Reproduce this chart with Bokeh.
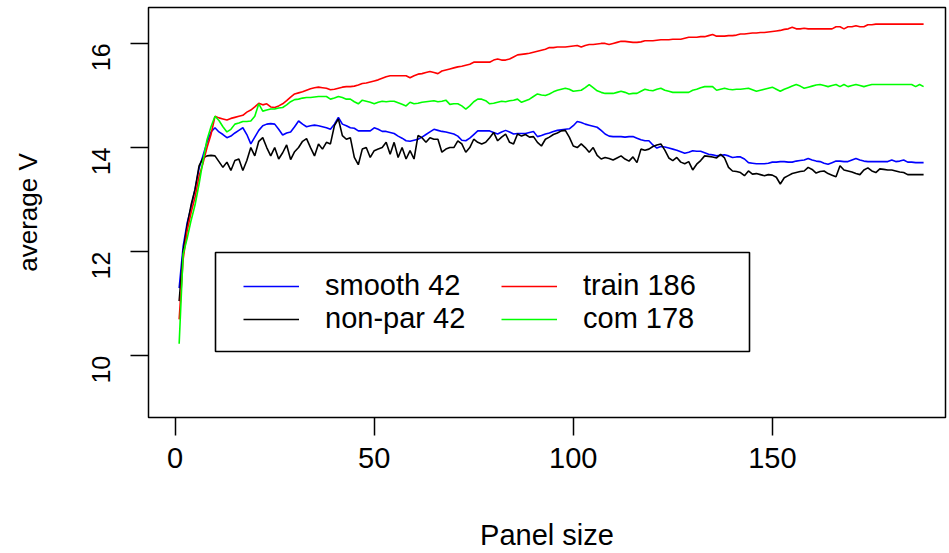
import math
from bokeh.plotting import figure
from bokeh.models import FixedTicker, Range1d, Legend, LegendItem, BoxAnnotation
from bokeh.embed import file_html
from bokeh.resources import INLINE

panel_size = list(range(1, 189))

smooth_42 = [
    11.3, 12.1, 12.55, 12.85, 13.2, 13.6, 13.85, 14.1, 14.3, 14.38,
    14.3, 14.25, 14.19, 14.22, 14.28, 14.33, 14.38, 14.25, 14.07, 14.2,
    14.33, 14.42, 14.45, 14.46, 14.45, 14.35, 14.24, 14.28, 14.3, 14.4,
    14.51, 14.45, 14.4, 14.42, 14.43, 14.42, 14.4, 14.38, 14.35, 14.45,
    14.58, 14.45, 14.42, 14.38, 14.37, 14.32, 14.32, 14.32, 14.32, 14.38,
    14.35, 14.31, 14.31, 14.29, 14.27, 14.22, 14.18, 14.13, 14.12, 14.14,
    14.16, 14.2, 14.25, 14.3, 14.35, 14.33, 14.31, 14.3, 14.28, 14.26,
    14.22, 14.14, 14.13, 14.18, 14.25, 14.32, 14.32, 14.32, 14.32, 14.29,
    14.26, 14.3, 14.33, 14.3, 14.26, 14.27, 14.27, 14.27, 14.29, 14.31,
    14.21, 14.23, 14.26, 14.28, 14.31, 14.33, 14.34, 14.35, 14.36, 14.42,
    14.5, 14.48, 14.45, 14.43, 14.41, 14.39, 14.33, 14.26, 14.22, 14.21,
    14.21, 14.21, 14.2, 14.21, 14.21, 14.18, 14.15, 14.13, 14.13, 14.05,
    13.99, 14.02, 14.01, 13.99, 13.97, 13.95, 13.92, 13.89, 13.91, 13.94,
    13.93, 13.93, 13.9, 13.87, 13.86, 13.84, 13.85, 13.86, 13.84, 13.81,
    13.82, 13.82, 13.78, 13.71, 13.7, 13.69, 13.69, 13.69, 13.7, 13.72,
    13.72, 13.73, 13.73, 13.72, 13.72, 13.74, 13.75, 13.76, 13.79, 13.76,
    13.74, 13.73, 13.7, 13.68, 13.71, 13.74, 13.74, 13.73, 13.73, 13.76,
    13.79, 13.76, 13.74, 13.73, 13.73, 13.73, 13.73, 13.73, 13.73, 13.76,
    13.73, 13.74, 13.76, 13.72, 13.72, 13.71, 13.71, 13.71,
]

nonpar_42 = [
    11.05, 12.0, 12.5, 12.9, 13.2, 13.65, 13.8, 13.84, 13.85, 13.84,
    13.73, 13.62, 13.72, 13.56, 13.75, 13.78, 13.56, 13.75, 14.0, 13.84,
    14.12, 14.19, 14.0, 13.84, 14.0, 13.78, 13.9, 14.05, 13.77, 13.92,
    14.0, 14.12, 14.17, 14.0, 13.84, 14.07, 13.97, 14.1, 14.07, 14.42,
    14.55, 14.23, 14.16, 14.19, 13.81, 13.67, 13.97, 14.0, 13.81, 13.94,
    13.97, 14.0, 14.1, 13.87, 14.1, 13.81, 14.0, 13.78, 13.94, 13.78,
    14.23, 14.19, 14.1, 14.19, 14.16, 14.16, 13.91, 13.97, 14.0, 14.0,
    14.13, 14.07, 13.91, 14.0, 14.16, 14.1, 14.07, 14.1, 14.19, 14.29,
    14.13, 14.2, 14.26, 14.1, 14.07, 14.26, 14.22, 14.25, 14.2, 14.21,
    14.1, 14.03, 14.16, 14.2, 14.25, 14.28, 14.32, 14.33, 14.2, 14.03,
    14.0, 14.07, 14.0, 13.91, 14.0, 13.85, 13.78, 13.81, 13.79, 13.76,
    13.8, 13.84, 13.78, 13.74, 13.82, 13.71, 13.97, 13.95, 13.97, 14.02,
    14.05, 14.07, 13.95, 13.8, 13.75, 13.81, 13.72, 13.69, 13.73, 13.57,
    13.68, 13.75, 13.84, 13.83, 13.82, 13.8, 13.87, 13.8, 13.62, 13.55,
    13.54, 13.52, 13.46, 13.55, 13.49, 13.5, 13.48, 13.46, 13.48, 13.47,
    13.43, 13.3, 13.42, 13.46, 13.5, 13.52, 13.54, 13.55, 13.62, 13.58,
    13.51, 13.54, 13.55, 13.5, 13.47, 13.44, 13.65, 13.57, 13.55, 13.53,
    13.5, 13.48, 13.57, 13.61, 13.55, 13.52, 13.59, 13.58, 13.57, 13.57,
    13.55, 13.53, 13.52, 13.48, 13.48, 13.48, 13.48, 13.48,
]

train_186 = [
    10.7, 11.85, 12.4, 12.75, 13.05, 13.45, 13.7, 14.0, 14.25, 14.6,
    14.57, 14.55, 14.53, 14.56, 14.58, 14.6, 14.62, 14.68, 14.72, 14.78,
    14.85, 14.82, 14.84, 14.78, 14.77, 14.8, 14.84, 14.9, 14.97, 15.03,
    15.05, 15.07, 15.1, 15.13, 15.15, 15.16, 15.15, 15.14, 15.11, 15.12,
    15.14, 15.16, 15.17, 15.17, 15.18, 15.2, 15.23, 15.24, 15.26, 15.28,
    15.3, 15.33, 15.36, 15.38, 15.38, 15.38, 15.38, 15.38, 15.34, 15.38,
    15.41, 15.42, 15.44, 15.46, 15.44, 15.42, 15.47, 15.49, 15.51, 15.53,
    15.55, 15.56, 15.58, 15.6, 15.64, 15.64, 15.64, 15.64, 15.64, 15.68,
    15.7, 15.68, 15.68, 15.7, 15.74, 15.78, 15.79, 15.8, 15.81, 15.83,
    15.85, 15.87, 15.89, 15.92, 15.92, 15.93, 15.93, 15.93, 15.94, 15.95,
    15.96, 15.93, 15.96, 15.98, 15.98, 15.99, 16.0, 16.0, 15.98, 16.0,
    16.02, 16.04, 16.04, 16.03, 16.02, 16.02, 16.03, 16.05, 16.05, 16.05,
    16.06, 16.07, 16.07, 16.07, 16.08, 16.08, 16.08, 16.1, 16.12, 16.12,
    16.12, 16.13, 16.13, 16.15, 16.17, 16.14, 16.14, 16.14, 16.15, 16.15,
    16.16, 16.18, 16.18, 16.19, 16.2, 16.2, 16.21, 16.21, 16.22, 16.23,
    16.24, 16.25, 16.27, 16.28, 16.31, 16.28, 16.28, 16.29, 16.28, 16.28,
    16.28, 16.28, 16.28, 16.28, 16.28, 16.32, 16.32, 16.28, 16.32, 16.32,
    16.34, 16.32, 16.32, 16.36, 16.36, 16.37, 16.37, 16.37, 16.37, 16.37,
    16.37, 16.37, 16.37, 16.37, 16.37, 16.37, 16.37, 16.37,
]

com_178 = [
    10.23, 11.95, 12.25, 12.6, 12.9, 13.3, 13.75, 14.15, 14.4, 14.6,
    14.52, 14.4, 14.3, 14.35, 14.45, 14.47, 14.5, 14.5, 14.51, 14.6,
    14.84, 14.7, 14.72, 14.74, 14.74, 14.76, 14.77, 14.82, 14.88, 14.92,
    14.93, 14.95, 14.96, 14.96, 14.97, 14.98, 14.98, 14.98, 14.93, 14.95,
    14.98, 14.96, 14.93, 14.93, 14.88, 14.84, 14.91, 14.89, 14.87, 14.84,
    14.87, 14.89, 14.88, 14.89, 14.89, 14.86, 14.83, 14.8, 14.87, 14.84,
    14.85, 14.87, 14.88, 14.89, 14.9, 14.88, 14.89, 14.91, 14.83, 14.84,
    14.84, 14.8, 14.74, 14.8, 14.88, 14.93, 14.93, 14.9, 14.84, 14.85,
    14.87, 14.89, 14.88, 14.9, 14.91, 14.93, 14.87, 14.9, 14.93, 14.98,
    15.03, 15.01, 15.0, 15.03, 15.07, 15.1, 15.12, 15.14, 15.12, 15.08,
    15.09, 15.1, 15.15, 15.21, 15.15, 15.09, 15.06, 15.04, 15.04, 15.04,
    15.06, 15.08, 15.06, 15.03, 15.04, 15.04, 15.08, 15.12, 15.1, 15.09,
    15.12, 15.14, 15.1, 15.08, 15.06, 15.06, 15.06, 15.06, 15.06, 15.1,
    15.12, 15.15, 15.17, 15.17, 15.17, 15.1, 15.12, 15.14, 15.12, 15.11,
    15.12, 15.12, 15.13, 15.14, 15.11, 15.08, 15.1, 15.12, 15.14, 15.16,
    15.12, 15.08, 15.12, 15.15, 15.18, 15.21, 15.18, 15.14, 15.16, 15.18,
    15.2, 15.21, 15.19, 15.17, 15.19, 15.21, 15.17, 15.21, 15.17, 15.19,
    15.21, 15.19, 15.17, 15.19, 15.21, 15.21, 15.21, 15.21, 15.21, 15.21,
    15.21, 15.21, 15.21, 15.21, 15.21, 15.17, 15.21, 15.17,
]

x_ticks = [0, 50, 100, 150]
y_ticks = [10, 12, 14, 16]

FONT = "Liberation Sans"

p = figure(
    width=949, height=553,
    output_backend="svg", toolbar_location=None,
    x_range=Range1d(-6.7, 193.5), y_range=Range1d(8.815, 16.69),
    min_border_left=148, min_border_right=4, min_border_top=7, min_border_bottom=136,
    background_fill_color="white", border_fill_color="white",
)
p.outline_line_color = "black"
p.outline_line_width = 1.5
p.xgrid.visible = False
p.ygrid.visible = False

for ax in (p.xaxis[0], p.yaxis[0]):
    ax.axis_line_color = None
    ax.major_tick_in = 0
    ax.major_tick_out = 18
    ax.major_tick_line_color = "black"
    ax.major_tick_line_width = 1.5
    ax.minor_tick_line_color = None
    ax.major_label_text_font = FONT
    ax.major_label_text_color = "black"
    ax.axis_label_text_font = FONT
    ax.axis_label_text_font_style = "normal"
    ax.axis_label_text_color = "black"

p.xaxis[0].ticker = FixedTicker(ticks=x_ticks)
p.yaxis[0].ticker = FixedTicker(ticks=y_ticks)
p.xaxis[0].axis_label = "Panel size"
p.yaxis[0].axis_label = "average V"
p.xaxis[0].major_label_text_font_size = "29px"
p.yaxis[0].major_label_text_font_size = "25px"
p.xaxis[0].axis_label_text_font_size = "29px"
p.yaxis[0].axis_label_text_font_size = "26px"
p.xaxis[0].major_label_standoff = 12
p.yaxis[0].major_label_standoff = 29
p.yaxis[0].major_label_orientation = math.pi / 2
p.xaxis[0].axis_label_standoff = 48
p.yaxis[0].axis_label_standoff = 38

r_smooth = p.line(panel_size, smooth_42, line_color="#0000FF", line_width=1.6)
r_nonpar = p.line(panel_size, nonpar_42, line_color="#000000", line_width=1.6)
r_train = p.line(panel_size, train_186, line_color="#FF0000", line_width=1.6)
r_com = p.line(panel_size, com_178, line_color="#00FF00", line_width=1.6)

# legend frame (screen px relative to the plot frame)
frame_box = BoxAnnotation(
    left=67, right=601, bottom=66, top=165,
    left_units="screen", right_units="screen",
    bottom_units="screen", top_units="screen",
    fill_color="white", fill_alpha=1.0,
    line_color="black", line_alpha=1.0, line_width=1.6,
)
p.add_layout(frame_box)

legend_style = dict(
    label_text_font=FONT, label_text_font_size="29px", label_text_color="black",
    glyph_width=56, glyph_height=20, label_standoff=26,
    label_height=31, spacing=0, padding=0, margin=0,
    border_line_color=None, background_fill_alpha=0.0,
)

legend_left = Legend(
    items=[
        LegendItem(label="smooth 42", renderers=[r_smooth]),
        LegendItem(label="non-par 42", renderers=[r_nonpar]),
    ],
    location=(95, 82), **legend_style,
)
legend_right = Legend(
    items=[
        LegendItem(label="train 186", renderers=[r_train]),
        LegendItem(label="com 178", renderers=[r_com]),
    ],
    location=(353, 82), **legend_style,
)
p.add_layout(legend_left, "center")
p.add_layout(legend_right, "center")

open("out.html", "w").write(file_html(p, INLINE))
